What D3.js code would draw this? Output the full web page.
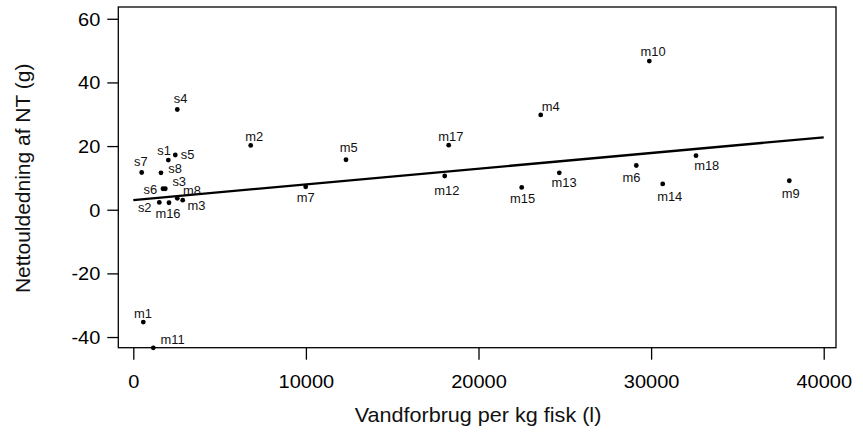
<!DOCTYPE html>
<html>
<head>
<meta charset="utf-8">
<script src="https://cdn.jsdelivr.net/npm/d3@7"></script>
<style>
  html, body { margin: 0; padding: 0; background: #fff; }
  svg { display: block; font-family: "Liberation Sans", Arial, Helvetica, sans-serif; }
</style>
</head>
<body>
<svg id="chart" width="863" height="435"></svg>
<script>
// ---- data ----
const names = ["s1","s2","s3","s4","s5","s6","s7","s8",
  "m1","m2","m3","m4","m5","m6","m7","m8","m9","m10","m11","m12","m13","m14","m15","m16","m17","m18"];
const waterUse = [2028,1506,1854,2549,2433,1720,487,1605,
  579,6802,2862,23604,12323,29142,9988,2549,38007,29896,1159,18042,24681,30672,22503,2068,18273,32601];
const netRelease = [15.6,2.3,6.6,31.5,17.2,6.6,11.7,11.6,
  -35.3,20.2,3.0,29.8,15.7,13.9,7.2,3.6,9.1,46.7,-43.4,10.6,11.6,8.1,7.0,2.2,20.3,17.0];
const xTicks = [0,10000,20000,30000,40000];
const yTicks = [-40,-20,0,20,40,60];
const fitX = [0, 40000];
const fitY = [3.05, 22.75];
const xTitle = "Vandforbrug per kg fisk (l)";
const yTitle = "Nettouldedning af NT (g)";

// ---- label placement (layout only: offset of label centre/baseline from its point, px) ----
const labelOffset = {
  s1:[-4.3,-5], s2:[-14.6,10], s3:[13.9,-3], s4:[3.2,-6], s5:[12.2,4.3], s6:[-12.7,5.3],
  s7:[-0.9,-6.3], s8:[14,0.6], m1:[-0.3,-3.7], m2:[3.5,-4.6], m3:[13.8,10], m4:[10,-3.7],
  m5:[2.7,-7.4], m6:[-4.8,16.4], m7:[0,15], m8:[14.7,-3], m9:[1.4,17.6], m10:[3.7,-5],
  m11:[19.2,-3.7], m12:[2.1,18.7], m13:[4.7,14.6], m14:[7,16.7], m15:[0.8,15.4],
  m16:[-1,15.6], m17:[2.1,-4.3], m18:[10.7,14.3]
};

const svg = d3.select("#chart");
const L = 118.3, R = 836, T = 7, B = 347.7;

const x = d3.scaleLinear().domain([-869, 40712]).range([L, R]);
const y = d3.scaleLinear().domain([-43.35, 63.7]).range([B, T]);

const tickFont = 17.7, tickStretch = 1.13;
const fmt = d => String(d);

// y axis
const yAxis = svg.append("g").attr("transform", `translate(${L},0)`)
  .call(d3.axisLeft(y).tickValues(yTicks).tickSize(11).tickPadding(7).tickFormat(fmt));
yAxis.select(".domain").remove();
yAxis.selectAll(".tick line").attr("stroke", "#000").attr("stroke-width", 1.3);
yAxis.selectAll(".tick text")
  .attr("font-size", tickFont).attr("font-family", "Liberation Sans, Arial, sans-serif")
  .attr("fill", "#000")
  .attr("x", -18 / tickStretch).attr("dy", "0.37em")
  .attr("transform", `scale(${tickStretch},1)`);

// x axis
const xAxis = svg.append("g").attr("transform", `translate(0,${B})`)
  .call(d3.axisBottom(x).tickValues(xTicks).tickSize(12).tickPadding(16).tickFormat(fmt));
xAxis.select(".domain").remove();
xAxis.selectAll(".tick line").attr("stroke", "#000").attr("stroke-width", 1.3);
xAxis.selectAll(".tick text")
  .attr("font-size", tickFont).attr("font-family", "Liberation Sans, Arial, sans-serif")
  .attr("fill", "#000")
  .attr("transform", `scale(${tickStretch},1)`);

// frame
svg.append("rect")
  .attr("x", L).attr("y", T).attr("width", R - L).attr("height", B - T)
  .attr("fill", "none").attr("stroke", "#000").attr("stroke-width", 1.3);

// regression line
svg.append("path")
  .datum(fitX.map((v, i) => [v, fitY[i]]))
  .attr("d", d3.line().x(d => x(d[0])).y(d => y(d[1])))
  .attr("fill", "none").attr("stroke", "#000").attr("stroke-width", 2.3);

// points
const pts = names.map((n, i) => ({ name: n, wx: waterUse[i], ny: netRelease[i] }));
svg.append("g").selectAll("circle").data(pts).join("circle")
  .attr("cx", d => x(d.wx)).attr("cy", d => y(d.ny)).attr("r", 2.4).attr("fill", "#000");

// point labels
const labStretch = 1.05;
svg.append("g").selectAll("text").data(pts).join("text")
  .attr("transform", d => {
    const o = labelOffset[d.name] || [0, -5];
    return `translate(${x(d.wx) + o[0]},${y(d.ny) + o[1]}) scale(${labStretch},1)`;
  })
  .attr("text-anchor", "middle")
  .attr("font-size", 12.3).attr("fill", "#111")
  .text(d => d.name);

// axis titles
svg.append("text")
  .attr("transform", `translate(478,422) scale(1.08,1)`)
  .attr("text-anchor", "middle").attr("font-size", 20).attr("fill", "#111")
  .text(xTitle);
svg.append("text")
  .attr("transform", `translate(29.5,178.3) rotate(-90) scale(1.05,1)`)
  .attr("text-anchor", "middle").attr("font-size", 20).attr("fill", "#111")
  .text(yTitle);
</script>
</body>
</html>
